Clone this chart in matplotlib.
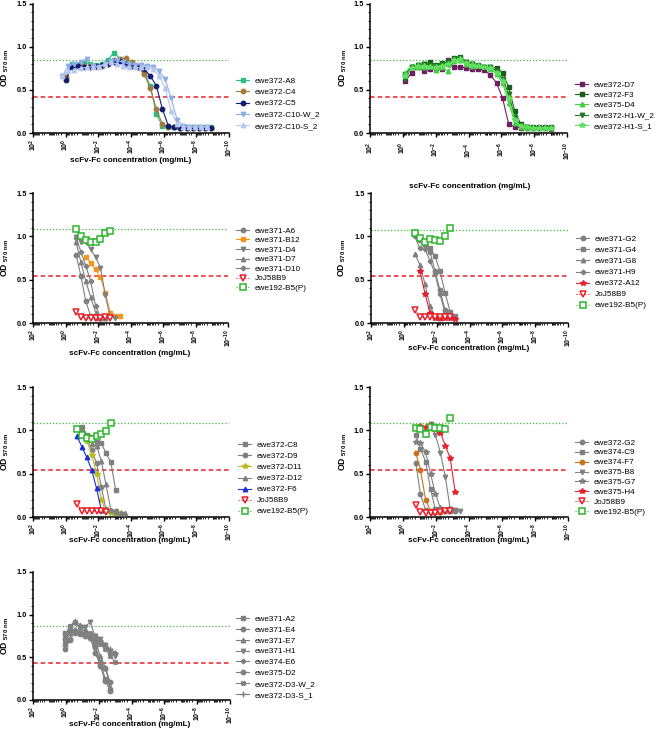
import numpy as np
import matplotlib
matplotlib.use("Agg")
import matplotlib.pyplot as plt
from matplotlib.ticker import FixedLocator, FixedFormatter, LogLocator, NullFormatter, MultipleLocator

plt.rcParams['font.family'] = ['Liberation Sans', 'DejaVu Sans']
plt.rcParams['mathtext.fontset'] = 'custom'
plt.rcParams['mathtext.rm'] = 'Liberation Sans'
plt.rcParams['mathtext.bf'] = 'Liberation Sans:bold'
plt.rcParams['mathtext.default'] = 'bf'

nan = np.nan

# ---- panel 1 (log10 mg/mL) ----
x1 = [0.00, -0.37, -0.74, -1.11, -1.48, -1.85, -2.22, -2.59, -2.96, -3.33, -3.70, -4.07, -4.44,
      -4.81, -5.18, -5.55, -5.92, -6.29, -6.66, -7.03, -7.40, -7.77, -8.14, -8.51, -8.88]
x1_c10 = [0.20, -0.17, -0.54, -0.91, -1.28, -1.65, -2.02, -2.39, -2.76, -3.13, -3.50, -3.87, -4.24,
          -4.61, -4.98, -5.35, -5.72, -6.09, -6.46, -6.83, -7.20, -7.57, -7.94, -8.31, -8.68]
a8 = [0.65, 0.80, 0.80, 0.81, 0.80, 0.79, 0.80, 0.85, 0.93, 0.86, 0.81, 0.80, 0.78, 0.70, 0.55,
      0.22, 0.08, 0.07, 0.07, 0.06, 0.07, 0.07, 0.07, 0.07, 0.07]
c4 = [0.65, 0.77, 0.78, 0.78, 0.78, 0.77, 0.78, 0.80, 0.84, 0.86, 0.87, 0.82, 0.76, 0.68, 0.52,
      0.28, 0.10, 0.07, 0.07, 0.06, 0.06, 0.06, 0.06, 0.06, 0.06]
c5 = [0.61, 0.77, 0.78, 0.77, 0.77, 0.78, 0.79, 0.80, 0.82, 0.83, 0.80, 0.78, 0.76, 0.74, 0.66,
      0.55, 0.28, 0.08, 0.07, 0.06, 0.06, 0.06, 0.06, 0.06, 0.06]
c10w = [0.66, 0.78, 0.80, 0.82, 0.86, 0.78, 0.77, 0.80, 0.83, 0.84, 0.82, 0.80, 0.79, 0.79, 0.78,
        0.77, 0.72, 0.62, 0.40, 0.15, 0.08, 0.07, 0.07, 0.07, 0.07]
c10s = [0.66, 0.72, 0.73, 0.75, 0.76, 0.77, 0.76, 0.80, 0.82, 0.80, 0.78, 0.77, 0.76, 0.76, 0.77,
        0.74, 0.66, 0.52, 0.25, 0.10, 0.07, 0.07, 0.07, 0.07, 0.07]

# ---- panel 2 ----
x2 = [-0.16, -0.53, -0.90, -1.27, -1.64, -2.01, -2.38, -2.75, -3.12, -3.49, -3.86, -4.23, -4.60,
      -4.97, -5.34, -5.71, -6.08, -6.45, -6.82, -7.19, -7.56, -7.93, -8.30, -8.67, -9.04]
d7 = [0.60, 0.70, 0.76, 0.72, 0.74, 0.75, 0.74, 0.84, 0.76, 0.77, 0.75, 0.74, 0.74, 0.73, 0.67,
      0.58, 0.40, 0.10, 0.07, 0.06, 0.06, 0.06, 0.06, 0.06, 0.05]
f3 = [0.68, 0.77, 0.78, 0.80, 0.82, 0.79, 0.81, 0.80, 0.87, 0.88, 0.82, 0.80, 0.79, 0.77, 0.77,
      0.75, 0.70, 0.53, 0.25, 0.10, 0.07, 0.07, 0.07, 0.07, 0.07]
d4_375 = [0.70, 0.78, 0.76, 0.77, 0.78, 0.73, 0.76, 0.72, 0.83, 0.85, 0.80, 0.78, 0.79, 0.78, 0.74,
          0.68, 0.58, 0.35, 0.12, 0.07, 0.06, 0.06, 0.06, 0.06, 0.06]
h1w = [0.63, 0.76, 0.79, 0.80, 0.79, 0.78, 0.80, 0.82, 0.86, 0.87, 0.82, 0.80, 0.78, 0.77, 0.76,
       0.72, 0.62, 0.45, 0.18, 0.08, 0.07, 0.06, 0.06, 0.06, 0.06]
h1s = [0.66, 0.75, 0.78, 0.78, 0.77, 0.76, 0.78, 0.80, 0.84, 0.86, 0.81, 0.79, 0.78, 0.77, 0.75,
       0.70, 0.60, 0.40, 0.15, 0.08, 0.07, 0.06, 0.06, 0.06, 0.06]

# ---- panel 3 ----
x3 = [-0.65, -0.95, -1.25, -1.55, -1.85, -2.15, -2.45, -2.75, -3.05, -3.35]
a6 = [0.79, 0.54, 0.25, 0.08, 0.06, 0.06]
b12 = [nan, nan, 0.76, 0.69, 0.62, 0.53, 0.35, 0.12, 0.08, 0.08]
d4 = [0.99, 0.94, 0.93, 0.85, 0.76, 0.64, 0.32, 0.07, 0.06]
d7_371 = [0.93, 0.70, 0.48, 0.30, 0.12, 0.06, 0.06]
d10 = [0.98, 0.82, 0.66, 0.48, 0.20, 0.07, 0.06]
joj3 = [0.13, 0.07, 0.06, 0.06, 0.06, 0.06, 0.07, 0.06]
pos3 = [1.08, 1.00, 0.96, 0.93, 0.94, 0.97, 1.04, 1.06]

# ---- panel 4 ----
x4 = [-0.67, -0.98, -1.29, -1.59, -1.90, -2.20, -2.51, -2.82, -3.12]
g2 = [1.05, 0.96, 0.90, 0.82, 0.60, 0.38, 0.15, 0.08]
g4 = [1.02, 0.97, 0.93, 0.86, 0.77, 0.60, 0.35, 0.13, 0.08]
g8 = [0.80, 0.67, 0.45, 0.20, 0.07, 0.06]
h9 = [1.00, 0.86, 0.85, 0.72, 0.57, 0.33, 0.12, 0.07]
a12 = [nan, 0.60, 0.34, 0.12, 0.06, 0.06, 0.06, 0.06, 0.05]
joj4 = [0.15, 0.07, 0.07, 0.07, 0.07, 0.07, 0.07, 0.07]
pos4 = [1.04, 0.98, 0.93, 0.97, 0.96, 0.95, 1.00, 1.10]

# ---- panel 5 ----
x5 = [-0.70, -0.99, -1.29, -1.60, -1.89, -2.18, -2.46, -2.77, -3.06, -3.37, -3.66]
c8 = [nan, 1.04, 0.95, 0.92, 0.86, 0.85, 0.74, 0.63, 0.31]
d9 = [nan, 0.98, 0.93, 0.77, 0.62, 0.35, 0.09, 0.07, 0.07]
d11 = [nan, nan, 0.88, 0.72, 0.50, 0.20, 0.07, 0.05, 0.05, 0.05]
d12 = [nan, nan, nan, 0.84, 0.82, 0.65, 0.38, 0.08, 0.06, 0.05, 0.05]
f6 = [0.93, 0.81, 0.69, 0.54, 0.33, 0.08]
joj5 = [0.15, 0.07, 0.07, 0.07, 0.07, 0.07, 0.06]
pos5 = [1.01, 0.95, 0.91, 0.90, 0.94, 0.96, 0.99, 1.09]

# ---- panel 6 ----
x6 = [-0.78, -1.06, -1.37, -1.67, -1.96, -2.27, -2.57, -2.86, -3.16, -3.47]
g2_372 = [0.62, 0.26, 0.08, 0.06, 0.06, 0.06, 0.07, 0.07, 0.07]
c9 = [0.95, 0.79, 0.64, 0.32, 0.09, 0.08, 0.08, 0.08]
f7 = [0.74, 0.54, 0.20, 0.07, 0.06, 0.06]
b8 = [nan, nan, 0.98, 1.07, 0.95, 0.74, 0.46, 0.09, 0.08, 0.07]
g7 = [0.87, 0.85, 0.75, 0.50, 0.27, 0.10, 0.08, 0.07]
h4 = [nan, 1.05, 1.04, 1.06, 1.02, 0.97, 0.82, 0.68, 0.29]
joj6 = [0.14, 0.06, 0.05, 0.05, 0.05, 0.06, 0.07, 0.07]
pos6 = [1.03, 1.01, 0.96, 1.04, 1.03, 1.03, 1.02, 1.14]

# ---- panel 7 ----
x7 = [0.06, -0.25, -0.55, -0.86, -1.17, -1.48, -1.78, -2.09, -2.40, -2.71, -3.02]
a2 = [0.78, 0.83, 0.80, 0.79, 0.77, 0.76, 0.65, 0.45, 0.25, 0.12]
e4 = [0.60, 0.70, 0.80, 0.78, 0.76, 0.74, 0.62, 0.40, 0.22, 0.11]
e7 = [0.70, 0.86, 0.93, 0.88, 0.83, 0.75, 0.70, 0.52, 0.38, 0.15]
h1 = [0.75, 0.85, 0.90, 0.85, 0.86, 0.91, 0.75, 0.72, 0.65, 0.58, 0.52]
e6 = [0.66, 0.78, 0.82, 0.80, 0.78, 0.76, 0.74, 0.68, 0.62, 0.55, 0.55]
d2 = [0.72, 0.80, 0.78, 0.77, 0.75, 0.73, 0.55, 0.42, 0.38, 0.21]
d3w = [0.74, 0.87, 0.91, 0.85, 0.80, 0.78, 0.72, 0.66, 0.60, 0.52, 0.44]
d3s = [0.63, 0.73, 0.82, 0.80, 0.80, 0.77, 0.75, 0.70, 0.64, 0.60, 0.55]

# thresholds per panel (green upper, red lower)
upper = [0.84, 0.84, 1.08, 1.07, 1.08, 1.08, 0.87]
lower = [0.42, 0.42, 0.54, 0.54, 0.54, 0.54, 0.43]

W, H = 658, 734
fig = plt.figure(figsize=(W / 100, H / 100), dpi=100)

GRAY = '#808080'
GREEN_POS = '#2db52d'
RED = '#e8212b'


def box(l, r, t, b):
    return [l / W, 1 - b / H, (r - l) / W, (b - t) / H]


def setup(ax, pad=1.0):
    ax.set_xscale('log')
    ax.set_xlim(1e2, 1e-10)
    ax.set_ylim(0, 1.5)
    for s in ['top', 'right']:
        ax.spines[s].set_visible(False)
    for s in ['left', 'bottom']:
        ax.spines[s].set_linewidth(1.1)
    ax.xaxis.set_major_locator(FixedLocator([1e2, 1e0, 1e-2, 1e-4, 1e-6, 1e-8, 1e-10]))
    ax.xaxis.set_major_formatter(FixedFormatter([r'$10^{2}$', r'$10^{0}$', r'$10^{-2}$', r'$10^{-4}$',
                                                 r'$10^{-6}$', r'$10^{-8}$', r'$10^{-10}$']))
    ax.xaxis.set_minor_locator(LogLocator(base=10, subs=np.arange(1, 10), numticks=200))
    ax.xaxis.set_minor_formatter(NullFormatter())
    ax.set_yticks([0, 0.5, 1.0, 1.5])
    ax.set_yticklabels(['0.0', '0.5', '1.0', '1.5'], fontweight='bold')
    ax.yaxis.set_minor_locator(MultipleLocator(0.1))
    ax.tick_params(axis='x', which='major', length=3, width=1, labelsize=5.0, rotation=90, pad=pad)
    ax.tick_params(axis='x', which='minor', length=1.5, width=0.6)
    ax.tick_params(axis='y', which='major', length=3, width=1, labelsize=5.3, pad=1.5)
    ax.tick_params(axis='y', which='minor', length=1.5, width=0.6)
    ax.set_facecolor('none')


def ref_lines(ax, up, lo):
    ax.axhline(up, color='#3cbf3c', ls=(0, (1, 1.6)), lw=0.9, zorder=1)
    ax.axhline(lo, color=RED, ls=(0, (3, 2)), lw=1.1, zorder=1)


def curve(ax, x, y, color, marker, label, ms=3.2, open_=False, ls='-'):
    n = len(y)
    xx = 10 ** np.array(x[:n])
    if open_:
        ax.plot(xx, y, color=color, ls=ls, lw=0.8, marker=marker, ms=ms + 0.6, mfc='white',
                mec=color, mew=1.1, label=label, zorder=3)
    else:
        ax.plot(xx, y, color=color, ls=ls, lw=0.8, marker=marker, ms=ms, mec=color,
                label=label, zorder=3)


def finish(ax, lx, ly, spacing, xl, yl):
    ax.legend(loc='center left', bbox_to_anchor=(lx / W, 1 - ly / H), bbox_transform=fig.transFigure,
              frameon=False, fontsize=5.9, handlelength=1.6, handletextpad=0.7,
              labelspacing=spacing, borderpad=0, borderaxespad=0)
    fig.text(xl[0] / W, 1 - xl[1] / H, 'scFv-Fc concentration (mg/mL)', ha='center', va='center',
             fontsize=5.9, fontweight='bold')
    fig.text(yl[0] / W, 1 - yl[1] / H, r'OD $_{570\ nm}$', ha='center', va='center',
             rotation=90, fontsize=6.2, fontweight='bold')


# panel 1
ax = fig.add_axes(box(33, 229, 3.5, 133))
setup(ax)
ref_lines(ax, upper[0], lower[0])
curve(ax, x1, a8, '#2dbd80', 's', 'ewe372-A8')
curve(ax, x1, c4, '#a37a3c', 'o', 'ewe372-C4')
curve(ax, x1, c5, '#141c70', 'o', 'ewe372-C5')
curve(ax, x1_c10, c10w, '#8eaee8', 'v', 'ewe372-C10-W_2')
curve(ax, x1_c10, c10s, '#b6c7f0', '^', 'ewe372-C10-S_2')
finish(ax, 236, 103.5, 0.43, (131, 161), (5, 68))

# panel 2
ax = fig.add_axes(box(370, 567, 3.5, 133))
setup(ax, pad=3.5)
ref_lines(ax, upper[1], lower[1])
curve(ax, x2, d7, '#6e1f63', 's', 'ewe372-D7')
curve(ax, x2, f3, '#17601a', 's', 'ewe372-F3')
curve(ax, x2, d4_375, '#3fd13f', '^', 'ewe375-D4')
curve(ax, x2, h1w, '#1e7a1e', 'v', 'ewe372-H1-W_2')
curve(ax, x2, h1s, '#5fe05f', '*', 'ewe372-H1-S_1', ms=4)
finish(ax, 575, 105.5, 0.31, (470, 186), (343, 68))

# panel 3
ax = fig.add_axes(box(33, 228, 193, 323))
setup(ax)
ref_lines(ax, upper[2], lower[2])
curve(ax, x3, a6, GRAY, 'o', 'ewe371-A6')
curve(ax, x3, b12, '#f7941d', 's', 'ewe371-B12')
curve(ax, x3, d4, GRAY, 'v', 'ewe371-D4')
curve(ax, x3, d7_371, GRAY, '^', 'ewe371-D7')
curve(ax, x3, d10, GRAY, 'P', 'ewe371-D10', ms=3)
curve(ax, x3, joj3, RED, 'v', 'JoJ58B9', open_=True, ls=':')
curve(ax, x3, pos3, GREEN_POS, 's', 'ewe192-B5(P)', open_=True, ls=':')
finish(ax, 236, 259.5, 0.22, (130, 353), (5, 258))

# panel 4
ax = fig.add_axes(box(371, 568, 193, 323))
setup(ax)
ref_lines(ax, upper[3], lower[3])
curve(ax, x4, g2, GRAY, 'o', 'ewe371-G2')
curve(ax, x4, g4, GRAY, 's', 'ewe371-G4')
curve(ax, x4, g8, GRAY, '^', 'ewe371-G8')
curve(ax, x4, h9, GRAY, 'P', 'ewe371-H9', ms=3)
curve(ax, x4, a12, '#e01f2f', '*', 'ewe372-A12', ms=4)
curve(ax, x4, joj4, RED, 'v', 'JoJ58B9', open_=True, ls=':')
curve(ax, x4, pos4, GREEN_POS, 's', 'ewe192-B5(P)', open_=True, ls=':')
finish(ax, 576, 272.5, 0.4, (469, 348), (342, 258))

# panel 5
ax = fig.add_axes(box(33, 229, 387, 517))
setup(ax)
ref_lines(ax, upper[4], lower[4])
curve(ax, x5, c8, GRAY, 's', 'ewe372-C8')
curve(ax, x5, d9, GRAY, 'o', 'ewe372-D9')
curve(ax, x5, d11, '#b9b91c', '*', 'ewe372-D11', ms=4)
curve(ax, x5, d12, GRAY, '^', 'ewe372-D12')
curve(ax, x5, f6, '#1a30d8', '^', 'ewe372-F6')
curve(ax, x5, joj5, RED, 'v', 'JoJ58B9', open_=True, ls=':')
curve(ax, x5, pos5, GREEN_POS, 's', 'ewe192-B5(P)', open_=True, ls=':')
finish(ax, 238, 478.5, 0.4, (130, 540), (5, 452))

# panel 6
ax = fig.add_axes(box(370, 568, 387, 517))
setup(ax)
ref_lines(ax, upper[5], lower[5])
curve(ax, x6, g2_372, GRAY, 'o', 'ewe372-G2')
curve(ax, x6, c9, GRAY, 's', 'ewe374-C9')
curve(ax, x6, f7, '#c8741e', 'o', 'ewe374-F7')
curve(ax, x6, b8, GRAY, 'v', 'ewe375-B8')
curve(ax, x6, g7, GRAY, '*', 'ewe375-G7', ms=4)
curve(ax, x6, h4, '#e8202a', '*', 'ewe375-H4', ms=4)
curve(ax, x6, joj6, RED, 'v', 'JoJ58B9', open_=True, ls=':')
curve(ax, x6, pos6, GREEN_POS, 's', 'ewe192-B5(P)', open_=True, ls=':')
finish(ax, 575, 477.5, 0.27, (469, 541), (343, 452))

# panel 7
ax = fig.add_axes(box(33, 230, 572, 700))
setup(ax)
ref_lines(ax, upper[6], lower[6])
curve(ax, x7, a2, GRAY, 's', 'ewe371-A2')
curve(ax, x7, e4, GRAY, 'o', 'ewe371-E4')
curve(ax, x7, e7, GRAY, '^', 'ewe371-E7')
curve(ax, x7, h1, GRAY, 'v', 'ewe371-H1')
curve(ax, x7, e6, GRAY, 'P', 'ewe374-E6', ms=3)
curve(ax, x7, d2, GRAY, 'o', 'ewe375-D2')
curve(ax, x7, d3w, GRAY, 'X', 'ewe372-D3-W_2', ms=3)
curve(ax, x7, d3s, GRAY, '+', 'ewe372-D3-S_1', ms=4)
finish(ax, 236, 657, 0.38, (130, 725), (5, 636))

fig.savefig('out.png', dpi=100)
